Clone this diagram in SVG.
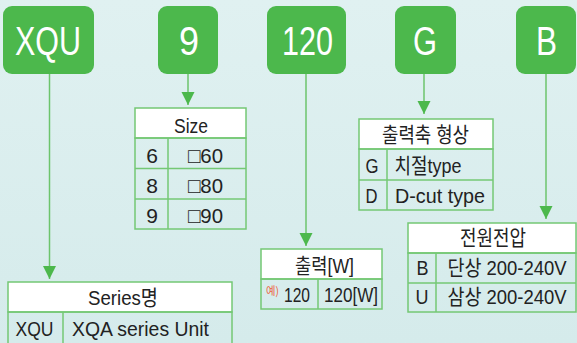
<svg xmlns="http://www.w3.org/2000/svg" width="577" height="343" viewBox="0 0 577 343">
<defs>
<linearGradient id="bg" x1="0" y1="0" x2="0" y2="1">
<stop offset="0" stop-color="#e0f1f1"/>
<stop offset="1" stop-color="#d5ebeb"/>
</linearGradient>
<marker id="arr" markerUnits="userSpaceOnUse" markerWidth="14" markerHeight="14" refX="13" refY="7" orient="auto">
<path d="M0,0.5 L13,7 L0,13.5 Z" fill="#4cb84c"/>
</marker>
<style>
.box{fill:#4cb84c;}
.bt{font-family:"Liberation Sans","Noto Sans CJK KR",sans-serif;font-size:40px;fill:#fff;text-anchor:middle;}
.tb{fill:none;stroke:#74c874;stroke-width:1.5;}
.hd{fill:#fff;stroke:#74c874;stroke-width:1.5;}
.t{font-family:"Liberation Sans","Noto Sans CJK KR",sans-serif;font-size:21px;fill:#222;text-anchor:middle;}
.con{stroke:#6cc46c;stroke-width:1.5;fill:none;}
</style>
</defs>
<rect width="577" height="343" fill="url(#bg)"/>

<g id="connectors">
<line class="con" x1="49.5" y1="74" x2="49.5" y2="279" marker-end="url(#arr)"/>
<line class="con" x1="188" y1="74" x2="188" y2="105" marker-end="url(#arr)"/>
<line class="con" x1="306" y1="74" x2="306" y2="246" marker-end="url(#arr)"/>
<line class="con" x1="424" y1="74" x2="424" y2="114" marker-end="url(#arr)"/>
<line class="con" x1="546" y1="74" x2="546" y2="219" marker-end="url(#arr)"/>
</g>

<g id="box-xqu"><rect class="box" x="3" y="6" width="91" height="68" rx="9"/><text class="bt" x="48" y="55" textLength="66" lengthAdjust="spacingAndGlyphs">XQU</text></g>
<g id="box-9"><rect class="box" x="158" y="6" width="60" height="68" rx="9"/><text class="bt" x="189" y="55" textLength="20" lengthAdjust="spacingAndGlyphs">9</text></g>
<g id="box-120"><rect class="box" x="267" y="6" width="79" height="68" rx="9"/><text class="bt" x="307.5" y="55" textLength="51" lengthAdjust="spacingAndGlyphs">120</text></g>
<g id="box-g"><rect class="box" x="395" y="6" width="61" height="68" rx="9"/><text class="bt" x="425" y="55" textLength="24" lengthAdjust="spacingAndGlyphs">G</text></g>
<g id="box-b"><rect class="box" x="516" y="6" width="60" height="68" rx="9"/><text class="bt" x="546.5" y="55" textLength="21" lengthAdjust="spacingAndGlyphs">B</text></g>

<g id="table-size">
<rect class="hd" x="135" y="108" width="111" height="30"/>
<rect class="tb" x="135" y="138" width="111" height="91"/>
<line class="tb" x1="135" y1="168.5" x2="246" y2="168.5"/>
<line class="tb" x1="135" y1="199" x2="246" y2="199"/>
<line class="tb" x1="168" y1="138" x2="168" y2="229"/>
<text class="t" x="191" y="133" textLength="34" lengthAdjust="spacingAndGlyphs">Size</text>
<text class="t" x="152" y="163">6</text>
<text class="t" x="205.5" y="163" textLength="35" lengthAdjust="spacingAndGlyphs">□60</text>
<text class="t" x="152" y="192.7">8</text>
<text class="t" x="205.5" y="192.7" textLength="35" lengthAdjust="spacingAndGlyphs">□80</text>
<text class="t" x="152" y="222.7">9</text>
<text class="t" x="205.5" y="222.7" textLength="35" lengthAdjust="spacingAndGlyphs">□90</text>
</g>

<g id="table-shaft">
<rect class="hd" x="359" y="119" width="134" height="30"/>
<rect class="tb" x="359" y="149" width="134" height="61"/>
<line class="tb" x1="359" y1="180" x2="493" y2="180"/>
<line class="tb" x1="387" y1="149" x2="387" y2="210"/>
<text class="t" x="425.5" y="141.7" textLength="87" lengthAdjust="spacingAndGlyphs">출력축 형상</text>
<text class="t" x="372" y="173.3" textLength="13" lengthAdjust="spacingAndGlyphs">G</text>
<text class="t" x="428" y="173.3" textLength="67" lengthAdjust="spacingAndGlyphs">치절type</text>
<text class="t" x="371.5" y="202.7" textLength="12" lengthAdjust="spacingAndGlyphs">D</text>
<text class="t" x="440" y="202.7" textLength="90" lengthAdjust="spacingAndGlyphs">D-cut type</text>
</g>

<g id="table-power">
<rect class="hd" x="261" y="249" width="121" height="30"/>
<rect class="tb" x="261" y="279" width="121" height="30"/>
<line class="tb" x1="318" y1="279" x2="318" y2="309"/>
<text class="t" x="324.5" y="272.7" textLength="59" lengthAdjust="spacingAndGlyphs">출력[W]</text>
<text x="272.5" y="295" font-family="Noto Sans CJK KR, sans-serif" font-size="11" fill="#ec6440" text-anchor="middle" textLength="13" lengthAdjust="spacingAndGlyphs">예)</text>
<text class="t" x="297" y="301.7" textLength="26" lengthAdjust="spacingAndGlyphs">120</text>
<text class="t" x="351" y="301.7" textLength="54" lengthAdjust="spacingAndGlyphs">120[W]</text>
</g>

<g id="table-voltage">
<rect class="hd" x="408" y="223" width="168" height="30"/>
<rect class="tb" x="408" y="253" width="168" height="59"/>
<line class="tb" x1="408" y1="283" x2="576" y2="283"/>
<line class="tb" x1="436" y1="253" x2="436" y2="312"/>
<text class="t" x="493" y="245" textLength="66" lengthAdjust="spacingAndGlyphs">전원전압</text>
<text class="t" x="422.5" y="275" textLength="12" lengthAdjust="spacingAndGlyphs">B</text>
<text class="t" transform="translate(507,275) scale(0.88,1)" x="0" y="0">단상 200-240V</text>
<text class="t" x="422" y="304" textLength="13" lengthAdjust="spacingAndGlyphs">U</text>
<text class="t" transform="translate(507,304) scale(0.88,1)" x="0" y="0">삼상 200-240V</text>
</g>

<g id="table-series">
<rect class="hd" x="8" y="282" width="224" height="30"/>
<rect class="tb" x="8" y="312" width="224" height="32"/>
<line class="tb" x1="63" y1="312" x2="63" y2="344"/>
<text class="t" x="123" y="305" textLength="70" lengthAdjust="spacingAndGlyphs">Series명</text>
<text class="t" x="34.5" y="336" textLength="38" lengthAdjust="spacingAndGlyphs">XQU</text>
<text class="t" x="140.5" y="336" textLength="137" lengthAdjust="spacingAndGlyphs">XQA series Unit</text>
</g>
</svg>
